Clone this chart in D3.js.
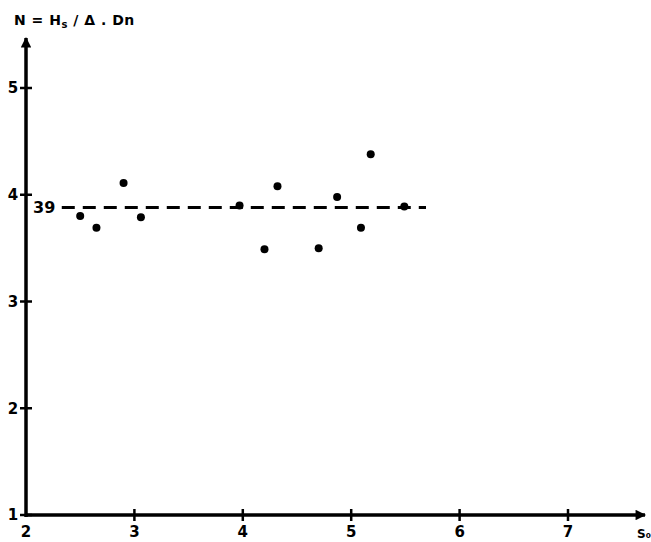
<!DOCTYPE html>
<html>
<head>
<meta charset="utf-8">
<script src="https://cdn.jsdelivr.net/npm/d3@7"></script>
<style>
  body { margin: 0; background: #fff; }
  svg { display: block; }
  text { font-family: "DejaVu Sans", sans-serif; font-weight: bold; fill: #000; }
</style>
</head>
<body>
<div id="chart"></div>
<script>
// values
const xValues = [2.50, 2.65, 2.90, 3.06, 3.97, 4.20, 4.32, 4.70, 4.87, 5.09, 5.18, 5.49];
const yValues = [3.80, 3.69, 4.11, 3.79, 3.90, 3.49, 4.08, 3.50, 3.98, 3.69, 4.38, 3.89];
const xTicks = [2, 3, 4, 5, 6, 7];
const yTicks = [1, 2, 3, 4, 5];
const meanValue = 3.88;
const meanLabel = '39';
const meanRange = [2.33, 5.69];

const width = 651, height = 542;

const svg = d3.select('#chart').append('svg')
    .attr('width', width)
    .attr('height', height);

const x = d3.scaleLinear().domain([2, 7]).range([26, 568]);
const y = d3.scaleLinear().domain([1, 5]).range([515, 88]);

// axes lines with arrows
svg.append('defs').append('marker')
    .attr('id', 'arrow')
    .attr('viewBox', '0 0 10 10')
    .attr('refX', 9).attr('refY', 5)
    .attr('markerWidth', 4).attr('markerHeight', 3)
    .attr('markerUnits', 'strokeWidth')
    .attr('orient', 'auto')
    .append('path')
    .attr('d', 'M0,0 L10,5 L0,10 z')
    .attr('fill', '#000');

svg.append('line')
    .attr('x1', x(2)).attr('y1', y(1))
    .attr('x2', 645).attr('y2', y(1))
    .attr('stroke', '#000').attr('stroke-width', 3.5)
    .attr('marker-end', 'url(#arrow)');

svg.append('line')
    .attr('x1', x(2)).attr('y1', y(1) + 2)
    .attr('x2', x(2)).attr('y2', 38)
    .attr('stroke', '#000').attr('stroke-width', 3.5)
    .attr('marker-end', 'url(#arrow)');

// ticks
svg.append('g').selectAll('line')
    .data(xTicks.slice(1))
    .enter().append('line')
    .attr('x1', d => x(d)).attr('x2', d => x(d))
    .attr('y1', y(1) - 6).attr('y2', y(1) + 6)
    .attr('stroke', '#000').attr('stroke-width', 2.5);

svg.append('g').selectAll('line')
    .data(yTicks)
    .enter().append('line')
    .attr('x1', x(2) - 6).attr('x2', x(2) + 6)
    .attr('y1', d => y(d)).attr('y2', d => y(d))
    .attr('stroke', '#000').attr('stroke-width', 2.5);

// tick labels
svg.append('g').selectAll('text')
    .data(xTicks)
    .enter().append('text')
    .attr('x', d => x(d))
    .attr('y', y(1) + 22)
    .attr('text-anchor', 'middle')
    .attr('font-size', 15)
    .text(d => d);

svg.append('g').selectAll('text')
    .data(yTicks)
    .enter().append('text')
    .attr('x', x(2) - 13)
    .attr('y', d => y(d))
    .attr('dy', '0.36em')
    .attr('text-anchor', 'middle')
    .attr('font-size', 15)
    .text(d => d);

// cut off axis name at the right edge
svg.append('text')
    .attr('x', 637).attr('y', 538)
    .attr('font-size', 12)
    .attr('font-weight', 'normal')
    .attr('fill', '#666')
    .text('S\u2080');

// y title
svg.append('text')
    .attr('x', 14).attr('y', 25)
    .attr('font-size', 14)
    .attr('letter-spacing', 0.5)
    .html('N = H<tspan font-size="10" dy="3">s</tspan><tspan dy="-3"> / \u0394 . Dn</tspan>');

// mean line
svg.append('line')
    .attr('x1', x(meanRange[0])).attr('x2', x(meanRange[1]))
    .attr('y1', y(meanValue)).attr('y2', y(meanValue))
    .attr('stroke', '#000').attr('stroke-width', 3)
    .attr('stroke-dasharray', '13,8');

svg.append('text')
    .attr('x', 33).attr('y', y(meanValue))
    .attr('dy', '0.36em')
    .attr('font-size', 16)
    .text(meanLabel);

// points
svg.append('g').selectAll('circle')
    .data(xValues.map((d, i) => [d, yValues[i]]))
    .enter().append('circle')
    .attr('cx', d => x(d[0]))
    .attr('cy', d => y(d[1]))
    .attr('r', 4)
    .attr('fill', '#000');
</script>
</body>
</html>
